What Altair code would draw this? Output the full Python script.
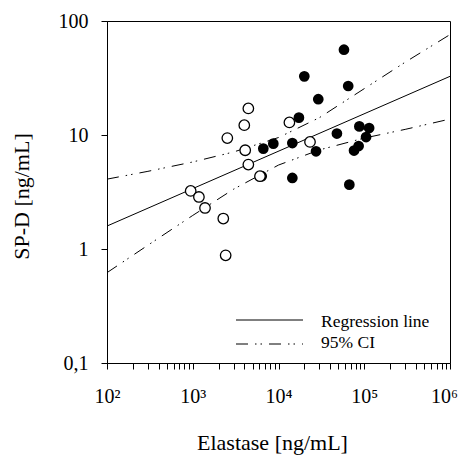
import altair as alt
import pandas as pd

# Data
filled_x = [58000, 20000, 65000, 29100, 17300, 87700, 114000, 48000, 105000,
            14500, 8700, 6650, 27400, 86000, 76000, 6370, 14500, 67000]
filled_y = [56, 32.7, 26.9, 20.6, 14.2, 11.9, 11.5, 10.3, 9.6,
            8.5, 8.4, 7.6, 7.2, 8.0, 7.3, 4.35, 4.2, 3.67]

open_x = [4450, 3990, 13400, 2530, 4090, 23300, 4450, 6080, 946, 1180, 1390, 2270, 2420]
open_y = [17.1, 12.2, 12.9, 9.4, 7.35, 8.7, 5.5, 4.35, 3.23, 2.86, 2.29, 1.85, 0.88]

reg_x = [100, 1000000]
reg_y = [1.59, 32.7]

ci_x = [100, 300, 1000, 3000, 10000, 30000, 100000, 300000, 1000000]
ci_upper = [4.1, 4.8, 5.8, 7.1, 9.5, 14.2, 25.5, 43.5, 76]
ci_lower = [0.62, 1.08, 1.97, 3.35, 5.45, 7.4, 9.4, 11.2, 13.8]

x_ticks = [m * 10 ** e for e in range(2, 6) for m in range(1, 10)] + [1000000]
y_ticks = [0.1, 1, 10, 100]

legend_labels = ["Regression line", "95% CI"]

FONT = "Liberation Serif"
DASH = [12, 7, 1.5, 4, 1.5, 7]

df_filled = pd.DataFrame({"x": filled_x, "y": filled_y})
df_open = pd.DataFrame({"x": open_x, "y": open_y})
df_reg = pd.DataFrame({"x": reg_x, "y": reg_y})
df_ci = pd.concat([
    pd.DataFrame({"x": ci_x, "y": ci_upper, "g": "upper"}),
    pd.DataFrame({"x": ci_x, "y": ci_lower, "g": "lower"}),
])

x_label_expr = ("datum.value==100?'10²':datum.value==1000?'10³':"
                "datum.value==10000?'10⁴':datum.value==100000?'10⁵':"
                "datum.value==1000000?'10⁶':''")

axis_common = dict(grid=False, domainColor="black", domainWidth=1, tickColor="black",
                   tickWidth=1, tickSize=6, labelFont=FONT, labelFontSize=20,
                   labelColor="black", titleFont=FONT, titleFontSize=22,
                   titleColor="black", titleFontWeight="normal")

xscale = alt.Scale(type="log", domain=[100, 1000000], nice=False)
yscale = alt.Scale(type="log", domain=[0.1, 100], nice=False)

xenc = alt.X("x:Q", scale=xscale,
             axis=alt.Axis(values=x_ticks, labelExpr=x_label_expr,
                           title="Elastase [ng/mL]", labelOverlap=False,
                           labelFlush=False, labelBaseline="alphabetic",
                           labelOffset={"condition": {"test": "datum.value >= 1000000", "value": -6},
                                        "value": 0},
                           labelPadding=33, titleX=165, titleY=86,
                           titleBaseline="alphabetic", titleAnchor="start",
                           titleAlign="center", **axis_common))
yenc = alt.Y("y:Q", scale=yscale,
             axis=alt.Axis(values=y_ticks,
                           labelExpr="datum.value<1?'0,1':format(datum.value,'d')",
                           title="SP-D [ng/mL]", labelPadding=13,
                           titleX=-79, titleY=175, titleAngle=-90,
                           titleBaseline="alphabetic", titleAlign="center",
                           titleAnchor="start", **axis_common))

reg = alt.Chart(df_reg).mark_line(color="black", strokeWidth=1).encode(x=xenc, y=yenc)
ci = alt.Chart(df_ci).mark_line(color="black", strokeWidth=1, strokeDash=DASH).encode(
    x="x:Q", y="y:Q", detail="g:N")
filled = alt.Chart(df_filled).mark_point(
    shape="circle", filled=True, color="black", size=115, opacity=1).encode(x="x:Q", y="y:Q")
opened = alt.Chart(df_open).mark_point(
    shape="circle", filled=True, fill="white", stroke="black", strokeWidth=1.3,
    size=110, opacity=1).encode(x="x:Q", y="y:Q")

leg_df = pd.DataFrame({"label": legend_labels})
leg_line1 = alt.Chart(leg_df.iloc[[0]]).mark_rule(color="black", strokeWidth=1).encode(
    x=alt.value(129), x2=alt.value(196), y=alt.value(299))
leg_line2 = alt.Chart(leg_df.iloc[[1]]).mark_rule(color="black", strokeWidth=1, strokeDash=DASH).encode(
    x=alt.value(129), x2=alt.value(196), y=alt.value(323))
leg_text1 = alt.Chart(leg_df.iloc[[0]]).mark_text(
    font=FONT, fontSize=17.5, align="left", baseline="alphabetic", color="black").encode(
    x=alt.value(214), y=alt.value(306), text="label:N")
leg_text2 = alt.Chart(leg_df.iloc[[1]]).mark_text(
    font=FONT, fontSize=17.5, align="left", baseline="alphabetic", color="black").encode(
    x=alt.value(214), y=alt.value(327), text="label:N")

chart = alt.layer(reg, ci, filled, opened, leg_line1, leg_line2, leg_text1, leg_text2).properties(
    width=343, height=342,
    background="white",
    autosize=alt.AutoSizeParams(type="none"),
    padding={"left": 99, "top": 13, "right": 8, "bottom": 92},
).configure_view(stroke="black", strokeWidth=1).configure_axis(grid=False)

chart.save("out.html", embed_options={"renderer": "svg", "actions": False})
